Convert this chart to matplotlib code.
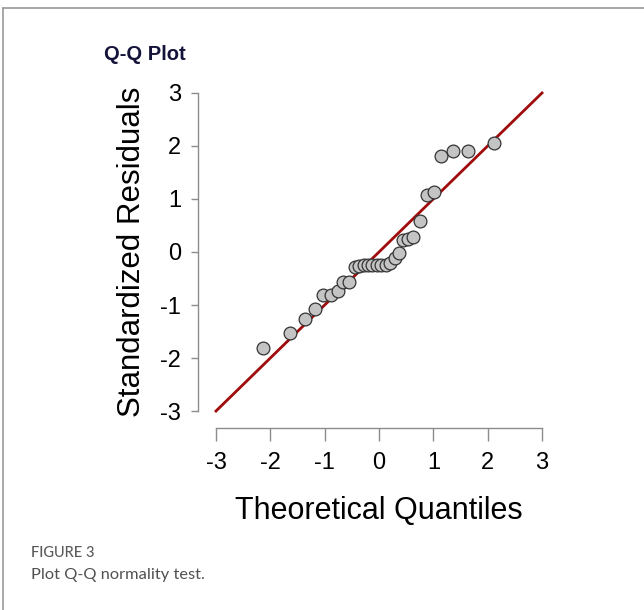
import numpy as np
import matplotlib
matplotlib.use("Agg")
import matplotlib.pyplot as plt
from matplotlib.lines import Line2D

# theoretical quantiles and standardized residuals
theo = [-2.13, -1.64, -1.37, -1.17, -1.03, -0.89, -0.76, -0.67, -0.55, -0.44,
        -0.36, -0.28, -0.20, -0.12, -0.04, 0.04, 0.12, 0.20, 0.29, 0.36,
        0.45, 0.54, 0.63, 0.75, 0.88, 1.01, 1.15, 1.36, 1.63, 2.12]
resid = [-1.81, -1.52, -1.27, -1.08, -0.81, -0.81, -0.74, -0.56, -0.56, -0.28,
         -0.26, -0.25, -0.25, -0.25, -0.25, -0.25, -0.25, -0.21, -0.12, -0.01,
         0.23, 0.24, 0.29, 0.58, 1.07, 1.13, 1.81, 1.91, 1.91, 2.06]
ref_line = [-3, 3]
ticks = [-3, -2, -1, 0, 1, 2, 3]

plt.rcParams['font.family'] = ['Liberation Sans', 'DejaVu Sans']
plt.rcParams['axes.unicode_minus'] = False

W, H = 644, 610
fig = plt.figure(figsize=(W / 100, H / 100), dpi=100)

# outer frame (left and top only visible)
fig.add_artist(Line2D([3 / W, 3 / W], [0, 1 - 8 / H], color='#999999', lw=1.2))
fig.add_artist(Line2D([3 / W, 1], [1 - 8 / H, 1 - 8 / H], color='#999999', lw=1.2))

ax = fig.add_axes([198 / W, 1 - 428 / H, 362 / W, 352 / H])
ax.plot(ref_line, ref_line, color='#a00c0c', lw=2.0, zorder=2)
ax.plot(theo, resid, 'o', ms=9.2, mfc='#c4c4c4', mec='#333333', mew=0.9, zorder=3)

ax.set_xlim(-3.331, 3.331)
ax.set_ylim(-3.32, 3.32)
ax.set_xticks(ticks)
ax.set_yticks(ticks)
for s in ['top', 'right']:
    ax.spines[s].set_visible(False)
for s in ['left', 'bottom']:
    ax.spines[s].set_bounds(-3, 3)
    ax.spines[s].set_color('#8c8c8c')
    ax.spines[s].set_linewidth(1.0)
ax.tick_params(axis='x', length=9, width=1.0, color='#8c8c8c', pad=8, labelsize=17)
ax.tick_params(axis='y', length=5, width=1.0, color='#8c8c8c', pad=7, labelsize=17)

ax.set_xlabel('Theoretical Quantiles', fontsize=22, labelpad=16)
ax.set_ylabel('Standardized Residuals', fontsize=22.5, labelpad=10)

fig.text(104 / W, 1 - 55 / H, 'Q-Q Plot', fontsize=14.5, fontweight='bold',
         color='#14143a', va='center', ha='left')

fig.text(31 / W, 1 - 553 / H, 'FIGURE 3', fontsize=10.5, color='#5a5a5a',
         family=['Lato', 'DejaVu Sans'], fontweight='medium',
         va='center', ha='left')
fig.text(31 / W, 1 - 575 / H, 'Plot Q-Q normality test.', fontsize=11.8,
         color='#505050', family=['Lato', 'DejaVu Sans'], fontweight='normal',
         va='center', ha='left')

fig.savefig('out.png', dpi=100)
